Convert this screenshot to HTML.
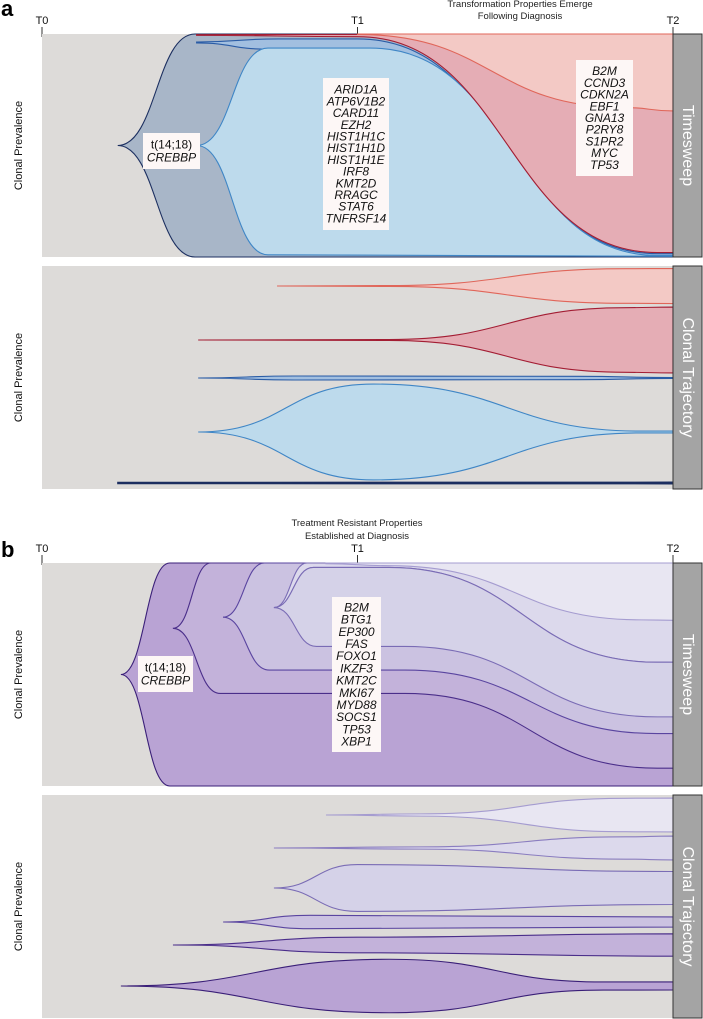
<!DOCTYPE html>
<html><head><meta charset="utf-8">
<style>
body{margin:0;background:#fff;width:703px;height:1019px;overflow:hidden;font-family:"Liberation Sans",sans-serif}
svg{display:block}
</style></head>
<body>
<svg id="fig" width="703" height="1019" xmlns="http://www.w3.org/2000/svg">
<g id="static" font-family="Liberation Sans, sans-serif">
  <text x="1" y="16" font-size="22" font-weight="bold">a</text>
  <text x="1" y="557" font-size="22" font-weight="bold">b</text>
  <text x="520" y="7" font-size="9.5" text-anchor="middle" fill="#222">Transformation Properties Emerge</text>
  <text x="520" y="19" font-size="9.5" text-anchor="middle" fill="#222">Following Diagnosis</text>
  <text x="357" y="526" font-size="9.5" text-anchor="middle" fill="#222">Treatment Resistant Properties</text>
  <text x="357" y="539" font-size="9.5" text-anchor="middle" fill="#222">Established at Diagnosis</text>
</g>
<g id="dyn"></g>
</svg>
<script>
// ---- Data ----
const timeLabels = ["T0", "T1", "T2"];
// Panel a timesweep boundaries: [time, fraction-of-height from top]
const aOuterTop = [[0.24,0.5],[0.485,0],[2,0]];
const aOuterBot = [[0.24,0.5],[0.485,1],[2,1]];
const aMidTop = [[0.49,0.036],[0.75,0.022],[1.0,0.022],[1.95,0.985],[2,0.985]];
const aMidBot = [[0.49,0.04],[0.716,0.068],[1.04,0.068],[1.95,0.995],[2,0.995]];
const aLightTop = [[0.49,0.5],[0.716,0.063],[1.04,0.063],[1.95,0.993],[2,0.993]];
const aLightBot = [[0.49,0.5],[0.716,0.99],[2,0.997]];
const aRedTop = [[0.49,0.003],[2,0]];
const aRedBot = [[0.49,0.006],[1.0,0.012],[1.95,0.98],[2,0.98]];
const aPinkTop = [[1.0,0],[2,0]];
const aPinkBot = [[1.0,0.002],[1.85,0.33],[2,0.345]];
// Panel a trajectory: widths (fraction of panel height) over time
const aTrajPink = [[0.745,0],[1.1,0.004],[1.85,0.155],[2,0.157]];
const aTrajRed = [[0.495,0],[1.1,0.004],[1.85,0.29],[2,0.295]];
const aTrajMid = [[0.495,0],[0.8,0.018],[1.7,0.015],[2,0.004]];
const aTrajLight = [[0.495,0],[1.05,0.43],[1.9,0.008],[2,0.008]];
const aTrajDark = [[0.24,0.006],[2,0.008]];
// Panel b timesweep boundaries
const bOuterTop = [[0.25,0.5],[0.405,0],[2,0]];
const bOuterBot = [[0.25,0.5],[0.405,1],[2,1]];
const b2Top = [[0.415,0.293],[0.535,0],[2,0]];
const b2Bot = [[0.415,0.293],[0.565,0.585],[1.15,0.585],[1.95,0.92],[2,0.92]];
const b3Top = [[0.574,0.243],[0.705,0],[2,0]];
const b3Bot = [[0.574,0.243],[0.72,0.48],[1.15,0.48],[1.95,0.765],[2,0.765]];
const b4bTop = [[0.735,0.2],[0.84,0],[2,0]];
const b4bBot = [[0.735,0.2],[0.86,0.02],[1.1,0.02],[1.95,0.445],[2,0.445]];
const b4Top = [[0.735,0.2],[0.86,0.02],[1.1,0.02],[1.95,0.445],[2,0.445]];
const b4Bot = [[0.735,0.2],[0.87,0.374],[1.15,0.374],[1.95,0.69],[2,0.69]];
const b6Top = [[0.9,0],[2,0]];
const b6Bot = [[0.9,0.003],[1.1,0.012],[1.9,0.255],[2,0.257]];
// Panel b trajectory widths
const bTraj6 = [[0.9,0],[1.2,0.01],[1.85,0.15],[2,0.152]];
const bTraj4b = [[0.735,0],[1.2,0.01],[1.85,0.1],[2,0.107]];
const bTraj4 = [[0.735,0],[1.0,0.21],[2,0.148]];
const bTraj3 = [[0.574,0],[0.85,0.06],[2,0.045]];
const bTraj2 = [[0.415,0],[1.0,0.07],[2,0.1]];
const bTraj1 = [[0.25,0],[1.1,0.24],[1.78,0.036],[2,0.036]];
// Gene labels
const aFounderGenes = ["t(14;18)", "CREBBP"];
const aBlueGenes = ["ARID1A","ATP6V1B2","CARD11","EZH2","HIST1H1C","HIST1H1D","HIST1H1E","IRF8","KMT2D","RRAGC","STAT6","TNFRSF14"];
const aRedGenes = ["B2M","CCND3","CDKN2A","EBF1","GNA13","P2RY8","S1PR2","MYC","TP53"];
const bGenes = ["B2M","BTG1","EP300","FAS","FOXO1","IKZF3","KMT2C","MKI67","MYD88","SOCS1","TP53","XBP1"];

// ---- Layout ----
const X0 = 42, X1 = 673;
const xs = t => X0 + t / 2 * (X1 - X0);
const NS = "http://www.w3.org/2000/svg";
const dyn = document.getElementById("dyn");
function mk(tag, attrs, parent) {
  const e = document.createElementNS(NS, tag);
  for (const k in attrs) e.setAttribute(k, attrs[k]);
  (parent || dyn).appendChild(e);
  return e;
}
function smooth(pts, fx, fy, start) {
  let d = start ? "M" : "L";
  d += fx(pts[0][0]).toFixed(2) + "," + fy(pts[0][1]).toFixed(2);
  for (let i = 1; i < pts.length; i++) {
    const x0 = fx(pts[i-1][0]), y0 = fy(pts[i-1][1]), x1 = fx(pts[i][0]), y1 = fy(pts[i][1]);
    const m = (x0 + x1) / 2;
    d += " C" + m + "," + y0 + " " + m + "," + y1 + " " + x1 + "," + y1;
  }
  return d;
}
function rev(p) { return p.slice().reverse(); }
function sweepShape(top, bot, y0, h, fill, stroke, name) {
  const fy = f => y0 + f * h;
  const d = smooth(top, xs, fy, true) + " " + smooth(rev(bot), xs, fy, false) + " Z";
  const p = mk("path", {d: d, fill: fill, stroke: stroke, "stroke-width": 1.1});
  
  
}
function trajShape(w, cy, h, fill, stroke, name) {
  const top = w.map(p => [p[0], -p[1] / 2]);
  const bot = w.map(p => [p[0], p[1] / 2]);
  const fy = f => cy + f * h;
  const d = smooth(top, xs, fy, true) + " " + smooth(rev(bot), xs, fy, false) + " Z";
  const p = mk("path", {d: d, fill: fill, stroke: stroke, "stroke-width": 1.1});
  
  
}
function panelBg(y0, h, name) {
  const r = mk("rect", {x: X0, y: y0, width: X1 - X0, height: h, fill: "#dddbd9"});
  
  
}
function sideBar(y0, h, label, name) {
  const r = mk("rect", {x: X1, y: y0, width: 29, height: h, fill: "#a4a4a4", stroke: "#333", "stroke-width": 1});
  
  
  const cx = X1 + 14.5, cy = y0 + h / 2;
  const t = mk("text", {x: cx, y: cy, fill: "#fff", "font-size": 16, "text-anchor": "middle", "dominant-baseline": "central", transform: "rotate(90 " + cx + " " + cy + ")"});
  t.textContent = label;
  
  
}
function yTitle(y0, h, name) {
  const cy = y0 + h / 2;
  const t = mk("text", {x: 19, y: cy, fill: "#111", "font-size": 11, "text-anchor": "middle", "dominant-baseline": "central", transform: "rotate(-90 19 " + cy + ")"});
  t.textContent = "Clonal Prevalence";
  
  
}
function timeAxis(ty, name) {
  timeLabels.forEach((lab, i) => {
    const x = xs(i);
    const t = mk("text", {x: x, y: ty, "font-size": 11, "text-anchor": "middle", fill: "#111"});
    t.textContent = lab;
    
    
    const l = mk("line", {x1: x, x2: x, y1: ty + 3, y2: ty + 13, stroke: "#333", "stroke-width": 1});
    
    
  });
}
function geneBox(x, y, w, h, genes, italicFrom, lh, name) {
  const r = mk("rect", {x: x, y: y, width: w, height: h, fill: "#fdf7f6"});
  
  
  const n = genes.length;
  const startY = y + h / 2 - (n - 1) * lh / 2;
  genes.forEach((g, i) => {
    const t = mk("text", {x: x + w / 2, y: startY + i * lh, "font-size": 12, "text-anchor": "middle", "dominant-baseline": "central", fill: "#111", "font-style": i >= italicFrom ? "italic" : "normal"});
    t.textContent = g;
    
    
  });
}

// ---- Panel a ----
const aTS = [34, 223], aTR = [266, 223];
timeAxis(24, "panel-a-axis");
yTitle(aTS[0], aTS[1]); yTitle(aTR[0], aTR[1]);
panelBg(aTS[0], aTS[1], "panel-a-timesweep-bg");
sweepShape(aOuterTop, aOuterBot, aTS[0], aTS[1], "#a8b6c8", "#1c2f60", "clone-founder-a");
sweepShape(aMidTop, aMidBot, aTS[0], aTS[1], "#a2bfe0", "#2a5ca6", "clone-mid-blue-a");
sweepShape(aLightTop, aLightBot, aTS[0], aTS[1], "#bddaec", "#3f86c6", "clone-light-blue-a");
sweepShape(aRedTop, aRedBot, aTS[0], aTS[1], "#e5adb5", "#a31d33", "clone-red-a");
sweepShape(aPinkTop, aPinkBot, aTS[0], aTS[1], "#f3c9c5", "#e0665a", "clone-pink-a");
sideBar(aTS[0], aTS[1], "Timesweep", "timesweep-bar-a");
geneBox(143, 133, 57, 36, aFounderGenes, 1, 13, "founder-label-a");
geneBox(323, 78, 66, 152, aBlueGenes, 0, 11.7, "blue-gene-box-a");
geneBox(576, 60, 57, 116, aRedGenes, 0, 11.7, "red-gene-box-a");

panelBg(aTR[0], aTR[1], "panel-a-trajectory-bg");
trajShape(aTrajPink, 286, aTR[1], "#f3c9c5", "#e0665a", "trajectory-pink-a");
trajShape(aTrajRed, 340, aTR[1], "#e5adb5", "#a31d33", "trajectory-red-a");
trajShape(aTrajMid, 378, aTR[1], "#a2bfe0", "#2a5ca6", "trajectory-mid-blue-a");
trajShape(aTrajLight, 432, aTR[1], "#bddaec", "#3f86c6", "trajectory-light-blue-a");
trajShape(aTrajDark, 483, aTR[1], "#1c2f60", "#1c2f60", "trajectory-founder-a");
sideBar(aTR[0], aTR[1], "Clonal Trajectory", "trajectory-bar-a");

// ---- Panel b ----
const bTS = [563, 223], bTR = [795, 223];
timeAxis(552, "panel-b-axis");
yTitle(bTS[0], bTS[1]); yTitle(bTR[0], bTR[1]);
panelBg(bTS[0], bTS[1], "panel-b-timesweep-bg");
sweepShape(bOuterTop, bOuterBot, bTS[0], bTS[1], "#b9a3d4", "#3a1f78", "clone-founder-b");
sweepShape(b2Top, b2Bot, bTS[0], bTS[1], "#c3b2da", "#4a2e8a", "clone-2-b");
sweepShape(b3Top, b3Bot, bTS[0], bTS[1], "#cbc2e1", "#5a45a0", "clone-3-b");
sweepShape(b4bTop, b4bBot, bTS[0], bTS[1], "#dcd9ec", "#7a6cb5", "clone-4b-b");
sweepShape(b4Top, b4Bot, bTS[0], bTS[1], "#d5d2e8", "#7a6cb5", "clone-4-b");
sweepShape(b6Top, b6Bot, bTS[0], bTS[1], "#e8e6f2", "#a59cd0", "clone-6-b");
sideBar(bTS[0], bTS[1], "Timesweep", "timesweep-bar-b");
geneBox(138, 656, 55, 36, aFounderGenes, 1, 13, "founder-label-b");
geneBox(332, 597, 49, 155, bGenes, 0, 12.2, "gene-box-b");

panelBg(bTR[0], bTR[1], "panel-b-trajectory-bg");
trajShape(bTraj6, 815, bTR[1], "#e8e6f2", "#a59cd0", "trajectory-6-b");
trajShape(bTraj4b, 848, bTR[1], "#dcd9ec", "#8a7dc0", "trajectory-4b-b");
trajShape(bTraj4, 888, bTR[1], "#d5d2e8", "#7a6cb5", "trajectory-4-b");
trajShape(bTraj3, 922, bTR[1], "#cbc2e1", "#5a45a0", "trajectory-3-b");
trajShape(bTraj2, 945, bTR[1], "#c3b2da", "#4a2e8a", "trajectory-2-b");
trajShape(bTraj1, 986, bTR[1], "#b9a3d4", "#3a1f78", "trajectory-founder-b");
sideBar(bTR[0], bTR[1], "Clonal Trajectory", "trajectory-bar-b");
</script>
</body></html>
